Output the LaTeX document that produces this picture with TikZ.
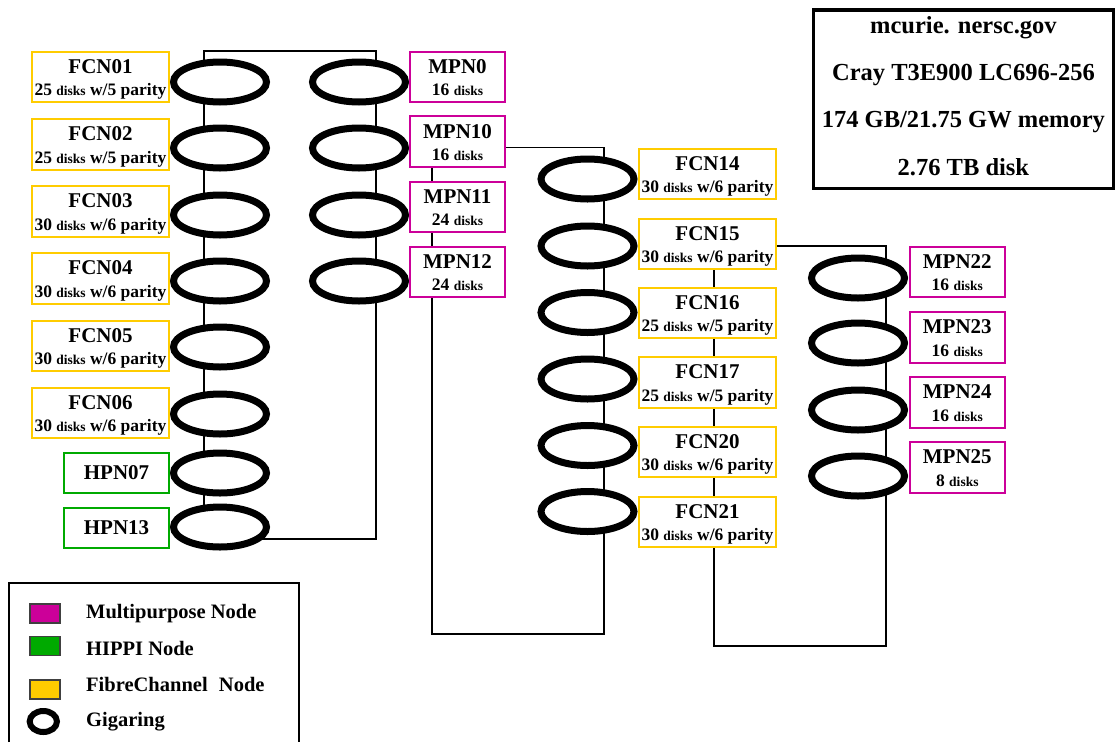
\documentclass[tikz,border=0pt]{standalone}
\usepackage{fontspec}
\setmainfont{Liberation Serif}
\usetikzlibrary{shapes.geometric,backgrounds}
\definecolor{fcy}{RGB}{255,204,0}
\definecolor{mpm}{RGB}{204,0,153}
\definecolor{hpg}{RGB}{0,170,0}
\newcommand{\fsz}[2]{\fontsize{#1}{#2}\selectfont}
\newcommand{\nm}[1]{{\fsz{21}{22.4}#1}}
\newcommand{\dsk}{{\fsz{13.5}{22.4}disks}}
\begin{document}
\begin{tikzpicture}[x=1pt,y=-1pt,
  wire/.style={line width=1.8pt, line join=miter},
  ring/.style={ellipse, draw, line width=7pt, fill=white, minimum width=93pt, minimum height=40pt, inner sep=0pt},
  nodebox/.style={rectangle, draw, line width=2pt, fill=white, inner sep=0pt, align=center, font=\bfseries\fsz{17.5}{22.4}},
  fcnbox/.style={nodebox, draw=fcy, minimum width=137pt, minimum height=50.6pt, text height=41.4pt, text depth=4pt},
  mpnbox/.style={nodebox, draw=mpm, minimum width=95pt, minimum height=50.6pt, text height=41.4pt, text depth=4pt},
  hpnbox/.style={nodebox, draw=hpg, minimum width=105pt, minimum height=40pt, font=\bfseries\fsz{21}{22.4}},
  legsq/.style={rectangle, draw=black!75, line width=1.5pt, minimum width=30pt, minimum height=19pt, inner sep=0pt},
  legtext/.style={anchor=base west, inner sep=0pt, font=\bfseries\fsz{20.5}{24}},
]
\useasboundingbox (0,0) rectangle (1115,742);

% ---------- gigarings ----------
\node[ring] (r01) at (220,82) {};
\node[ring] (r02) at (220,148) {};
\node[ring] (r03) at (220,215) {};
\node[ring] (r04) at (220,281) {};
\node[ring] (r05) at (220,347) {};
\node[ring] (r06) at (220,414) {};
\node[ring] (r07) at (220,473) {};
\node[ring] (r13) at (220,527) {};
\node[ring] (rm0) at (359,82) {};
\node[ring] (rm10) at (359,148) {};
\node[ring] (rm11) at (359,215) {};
\node[ring] (rm12) at (359,281) {};
\node[ring] (r14) at (587.5,179) {};
\node[ring] (r15) at (587.5,246) {};
\node[ring] (r16) at (587.5,312.5) {};
\node[ring] (r17) at (587.5,379) {};
\node[ring] (r20) at (587.5,445.5) {};
\node[ring] (r21) at (587.5,511.5) {};
\node[ring] (rm22) at (858,278) {};
\node[ring] (rm23) at (858,343) {};
\node[ring] (rm24) at (858,410) {};
\node[ring] (rm25) at (858,476) {};

% ---------- nodes ----------
\node[fcnbox] (fcn01) at (100.5,77) {\nm{FCN01}\\25 \dsk{} w/5 parity};
\node[fcnbox] (fcn02) at (100.5,144.5) {\nm{FCN02}\\25 \dsk{} w/5 parity};
\node[fcnbox] (fcn03) at (100.5,211.5) {\nm{FCN03}\\30 \dsk{} w/6 parity};
\node[fcnbox] (fcn04) at (100.5,278.5) {\nm{FCN04}\\30 \dsk{} w/6 parity};
\node[fcnbox] (fcn05) at (100.5,346) {\nm{FCN05}\\30 \dsk{} w/6 parity};
\node[fcnbox] (fcn06) at (100.5,413) {\nm{FCN06}\\30 \dsk{} w/6 parity};
\node[hpnbox] (hpn07) at (116.5,473) {HPN07};
\node[hpnbox] (hpn13) at (116.5,527.5) {HPN13};

\node[mpnbox] (mpn0) at (457.5,77) {\nm{MPN0}\\16 \dsk};
\node[mpnbox] (mpn10) at (457.5,141.7) {\nm{MPN10}\\16 \dsk};
\node[mpnbox] (mpn11) at (457.5,207) {\nm{MPN11}\\24 \dsk};
\node[mpnbox] (mpn12) at (457.5,272) {\nm{MPN12}\\24 \dsk};

\node[fcnbox] (fcn14) at (707.5,174) {\nm{FCN14}\\30 \dsk{} w/6 parity};
\node[fcnbox] (fcn15) at (707.5,244) {\nm{FCN15}\\30 \dsk{} w/6 parity};
\node[fcnbox] (fcn16) at (707.5,313) {\nm{FCN16}\\25 \dsk{} w/5 parity};
\node[fcnbox] (fcn17) at (707.5,382.5) {\nm{FCN17}\\25 \dsk{} w/5 parity};
\node[fcnbox] (fcn20) at (707.5,452) {\nm{FCN20}\\30 \dsk{} w/6 parity};
\node[fcnbox] (fcn21) at (707.5,522) {\nm{FCN21}\\30 \dsk{} w/6 parity};

\node[mpnbox] (mpn22) at (957.3,272) {\nm{MPN22}\\16 \dsk};
\node[mpnbox] (mpn23) at (957.3,337.5) {\nm{MPN23}\\16 \dsk};
\node[mpnbox] (mpn24) at (957.3,402.5) {\nm{MPN24}\\16 \dsk};
\node[mpnbox] (mpn25) at (957.3,467.5) {\nm{MPN25}\\8 \dsk};

% ---------- info box ----------
\node[draw, line width=3.5pt, minimum width=299.8pt, minimum height=178.2pt, inner sep=0pt,
      align=center, font=\bfseries\fsz{24.5}{47.3}, text height=155.7pt, text depth=4pt] (info)
  at (963.4,99.15) {mcurie. nersc.gov\\Cray T3E900 LC696-256\\174 GB/21.75 GW memory\\2.76 TB disk};

% ---------- legend ----------
\coordinate (lgbl) at (9.3,742);
\coordinate (lgtl) at (9.3,582.7);
\coordinate (lgtr) at (299,582.7);
\coordinate (lgbr) at (299,742);
\draw[line width=2pt] (lgbl) -- (lgtl) -- (lgtr) -- (lgbr);
\node[legsq, fill=mpm] (lm) at (45.2,613.7) {};
\node[legtext] (lmt) at (86,618.3) {Multipurpose Node};
\node[legsq, fill=hpg] (lh) at (45.2,646.2) {};
\node[legtext] (lht) at (86,655) {HIPPI Node};
\node[legsq, fill=fcy] (lf) at (45.2,689.7) {};
\node[legtext] (lft) at (86,691.7) {FibreChannel\hspace{0.3em} Node};
\node[ellipse, draw, line width=6pt, minimum width=27.3pt, minimum height=21pt, inner sep=0pt] (lg) at (43.3,721.5) {};
\node[legtext] (lgt) at (86,726.7) {Gigaring};

% ---------- wires ----------
\coordinate (l1tl) at (204,51);
\coordinate (l1tr) at (376,51);
\coordinate (l1br) at (376,538.7);
\coordinate (l2r) at (604,147.5);
\coordinate (l2br) at (604,634.3);
\coordinate (l2bl) at (432,634.3);
\coordinate (l3r) at (886,246);
\coordinate (l3br) at (886,645.7);
\coordinate (l3bl) at (714,645.7);
\begin{scope}[on background layer]
\draw[wire] (r13.center |- l1br) -- (l1br) -- (l1tr) -- (l1tl) -- (l1tl |- r13.center);
\draw[wire] (mpn10.east |- l2r) -- (l2r) -- (l2br) -- (l2bl) -- (l2bl |- mpn10.south);
\draw[wire] (fcn15.east |- l3r) -- (l3r) -- (l3br) -- (l3bl) -- (l3bl |- fcn15.south);
\end{scope}
\end{tikzpicture}
\end{document}
